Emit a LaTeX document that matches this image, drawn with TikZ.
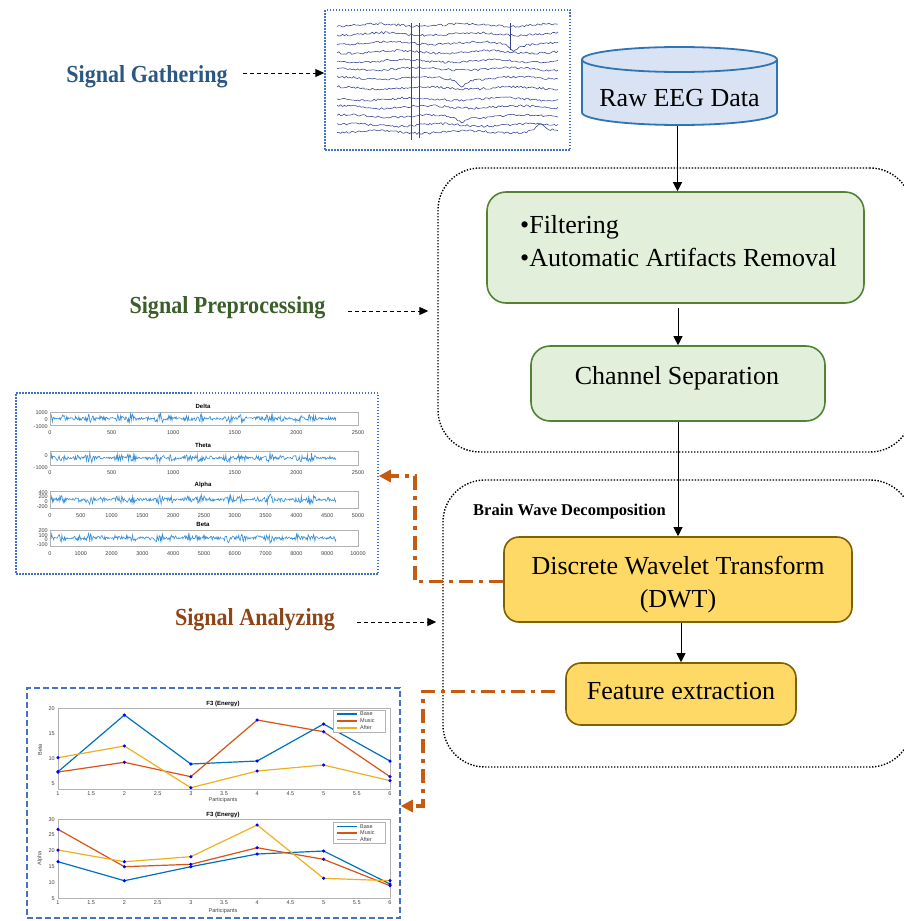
\documentclass[tikz,border=0pt]{standalone}
\usepackage{fontspec}
\setmainfont{Liberation Serif}
\setsansfont{Liberation Sans}
\newfontfamily\stagefont[FakeStretch=0.9]{Liberation Serif}
\usetikzlibrary{arrows.meta}

\definecolor{gathblue}{HTML}{2B5784}
\definecolor{prepdark}{HTML}{3B5E2B}
\definecolor{anabrown}{HTML}{8F4416}
\definecolor{prepedge}{HTML}{548235}
\definecolor{prepfill}{HTML}{E2EFDA}
\definecolor{dwtedge}{HTML}{806000}
\definecolor{dwtfill}{HTML}{FFD966}
\definecolor{cyledge}{HTML}{2E75B6}
\definecolor{cylfill}{HTML}{DAE3F3}
\definecolor{frameblue}{HTML}{4472C4}
\definecolor{analorange}{HTML}{C55A11}
\definecolor{eegnavy}{HTML}{34418F}
\definecolor{bandblue}{HTML}{3A8FD6}
\definecolor{basecol}{HTML}{0072BD}
\definecolor{musiccol}{HTML}{D95319}
\definecolor{aftercol}{HTML}{EDB120}

\tikzset{
  stage/.style={font=\stagefont\bfseries\fontsize{24.5}{28}\selectfont, anchor=base, inner sep=0pt},
  boxtext/.style={font=\fontsize{26}{32}\selectfont, anchor=base, inner sep=0pt},
  pointer/.style={draw, line width=1pt, dash pattern=on 4pt off 3pt, -{Triangle[length=9pt,width=8pt]}},
  flow/.style={draw, line width=0.8pt, -{Triangle[length=9pt,width=9pt]}},
  greenbox/.style={draw=prepedge, fill=prepfill, line width=1.6pt, rounded corners=19pt},
  goldbox/.style={draw=dwtedge, fill=dwtfill, line width=1.6pt, rounded corners=15pt},
  stagebox/.style={draw, line width=1.4pt, dash pattern=on 1.4pt off 1.6pt, rounded corners=42pt},
  imgframe/.style={draw=frameblue, line width=1.5pt, dash pattern=on 1.5pt off 1.5pt},
  chartframe/.style={draw=frameblue, line width=1.5pt, dash pattern=on 6pt off 3pt},
  analink/.style={draw=analorange, line width=3.5pt, dash pattern=on 14pt off 6pt on 4pt off 6pt, -{Triangle[length=12pt,width=12pt]}},
  eegtrace/.style={draw=eegnavy, line width=0.55pt},
  bandsig/.style={draw=bandblue, line width=0.6pt},
  axisline/.style={draw=gray!60, line width=0.6pt},
  plottitle/.style={font=\sffamily\bfseries\fontsize{6}{7}\selectfont, inner sep=0pt},
  ticklbl/.style={font=\sffamily\fontsize{5.5}{6}\selectfont, text=black!75, inner sep=0pt},
  serie/.style={line width=1.2pt, mark=*, mark size=0.9pt, mark options={fill=blue, draw=blue}}
}

\begin{document}
\begin{tikzpicture}[x=1pt,y=-1pt]
\useasboundingbox (0,0) rectangle (904,921);
\pgfmathsetseed{7}

% stages on the left
\node[stage, text=gathblue] (gathlbl) at (147,82) {Signal Gathering};
\node[stage, text=prepdark] (preplbl) at (227.5,313) {Signal Preprocessing};
\node[stage, text=anabrown] (analbl) at (255,625) {Signal Analyzing};

% stage containers
\node[stagebox, minimum width=474pt, minimum height=284pt] (prepstage) at (675,310) {};
\node[stagebox, minimum width=469pt, minimum height=287pt] (anastage) at (677.5,623.5) {};
\node[anchor=base west, inner sep=0pt, font=\bfseries\fontsize{16.5}{20}\selectfont] (bwd) at (473,515) {Brain Wave Decomposition};

% raw data store
\path[fill=cylfill, draw=cyledge, line width=1.8pt] (582,59.5) -- (582,112.5)
  arc[start angle=180, end angle=360, x radius=97.5pt, y radius=12.5pt] -- (777,59.5)
  arc[start angle=0, end angle=180, x radius=97.5pt, y radius=12.5pt] -- cycle;
\draw[cyledge, line width=1.8pt] (582,59.5) arc[start angle=180, end angle=360, x radius=97.5pt, y radius=12.5pt];
\node[boxtext] (raw) at (679.5,106) {Raw EEG Data};
\coordinate (rawbot) at (677.5,126);

% processing boxes
\node[greenbox, minimum width=377pt, minimum height=111pt] (prep) at (675.5,247.5) {};
\node[boxtext, anchor=base west] (filt) at (520,233) {\textbullet Filtering};
\node[boxtext, anchor=base west] (aar) at (520,266) {\textbullet Automatic Artifacts Removal};
\node[greenbox, minimum width=294pt, minimum height=75pt] (chan) at (678,383.5) {};
\node[boxtext] (chantxt) at (677,384) {Channel Separation};
\node[goldbox, minimum width=348pt, minimum height=85pt] (dwt) at (678,579.5) {};
\node[boxtext] (dwttxt) at (678,574) {Discrete Wavelet Transform};
\node[boxtext] (dwtabbr) at (678,607) {(DWT)};
\node[goldbox, minimum width=230pt, minimum height=62pt] (feat) at (681,694) {};
\node[boxtext] (feattxt) at (681,699) {Feature extraction};

\draw[flow] (rawbot) -- (rawbot |- prep.north);
\draw[flow, shorten <=4pt] (prep.south -| chan.north) -- (chan.north);
\draw[flow] (chan.south) -- (dwt.north);
\draw[flow] (dwt.south -| feat.north) -- (feat.north);

% picture frames
\node[imgframe, minimum width=245pt, minimum height=140pt] (eegimg) at (447.5,80) {};
\node[imgframe, minimum width=362pt, minimum height=181pt] (bands) at (197,483.5) {};
\node[chartframe, minimum width=373pt, minimum height=230pt] (charts) at (213.5,803) {};

\coordinate (gathtail) at (243,73);
\draw[pointer] (gathtail) -- (gathtail -| eegimg.west);
\coordinate (preptail) at (348,311);
\draw[pointer, shorten >=9pt] (preptail) -- (preptail -| prepstage.west);
\coordinate (anatail) at (357,622);
\draw[pointer, shorten >=6pt] (anatail) -- (anatail -| anastage.west);

\coordinate (kneeA) at (415,581.5);
\coordinate (kneeAtop) at (415,476);
\draw[analink] (dwt.west |- kneeA) -- (kneeA) -- (kneeAtop) -- (kneeAtop -| bands.east);
\coordinate (kneeB) at (423,691.5);
\coordinate (kneeBbot) at (423,806);
\draw[analink, shorten <=10pt] (feat.west |- kneeB) -- (kneeB) -- (kneeBbot) -- (kneeBbot -| charts.east);

% raw eeg traces
\foreach \ty/\bx/\ba in {25/500/0, 34/500/0, 43/514/7, 52/460/0, 61/500/0, 69/500/0,
    78/461/8, 88/500/0, 99/500/0, 107/500/0, 116/461/6, 125/500/0, 132/540/-7}
  \draw[eegtrace] plot[domain=337:558, samples=120]
    (\x,{\ty+1.1*rand+1.3*sin(\x*4+\ty*37)+\ba/(1+((\x-\bx)/5)^2)});
\draw[eegtrace, line width=0.4pt] (411,23) -- (411,140);
\draw[eegtrace, line width=0.4pt] (419,23) -- (419,138);
\draw[eegtrace, line width=0.4pt] (510,23) -- (510,50);

% wavelet bands
\foreach \ttl/\ya/\yb/\n/\stp in {Delta/412/425/5/500, Theta/451/465/5/500, Alpha/491/508/10/500, Beta/530/546/10/1000} {
  \draw[axisline] (50,\ya) rectangle (358,\yb);
  \node[plottitle] (t\ttl) at (203,\ya-6) {\ttl};
  \draw[bandsig] plot[domain=51:336, samples=420]
    (\x,{(\ya+\yb)/2+(0.8+4.5*abs(sin(\x*13))*abs(sin(\x*5)))*rand});
  \foreach \i in {0,...,\n} {
    \pgfmathtruncatemacro\lab{\i*\stp}
    \node[ticklbl] (x\ttl\i) at ({50+\i*308/\n},\yb+8) {\lab};
  }
}
\foreach \v/\yy [count=\j] in {1000/413, 0/420, -1000/426.5, 0/456, -1000/468,
    400/492.5, 200/497, 0/501.5, -200/506.5, 200/531, 100/535.5, 0/540, -100/544.5}
  \node[ticklbl, anchor=east] (yl\j) at (48,\yy) {\v};

% energy charts
\draw[axisline] (58,708) rectangle (390,789);
\node[plottitle] (ttop) at (223,704) {F3 (Energy)};
\foreach \v/\yy in {20/708.3, 15/733.7, 10/759, 5/784}
  \node[ticklbl, anchor=east] (yt\v) at (55,\yy) {\v};
\foreach \p [count=\j] in {1,1.5,2,2.5,3,3.5,4,4.5,5,5.5,6}
  \node[ticklbl] (xt\j) at ({58+(\p-1)*66.4},794) {\p};
\node[ticklbl] (xlt) at (223,800.5) {Participants};
\node[ticklbl, rotate=90] (ylt) at (40,750) {Beta};
\draw[serie, basecol] plot coordinates {(58,771.7) (124.4,715) (190.8,764) (257.2,761) (323.6,724) (390,761)};
\draw[serie, musiccol] plot coordinates {(58,772) (124.4,762.3) (190.8,776.7) (257.2,720) (323.6,731.7) (390,776.7)};
\draw[serie, aftercol] plot coordinates {(58,757.7) (124.4,746) (190.8,787.7) (257.2,771) (323.6,765) (390,780.7)};
\draw[axisline, fill=white] (333,710) rectangle (385,732);
\foreach \nm/\col/\yy in {Base/basecol/714, Music/musiccol/721, After/aftercol/728} {
  \draw[\col, line width=1.2pt] (337,\yy) -- (357,\yy);
  \node[ticklbl, anchor=west] (lgt\nm) at (360,\yy) {\nm};
}

\draw[axisline] (58,819.3) rectangle (390,898.3);
\node[plottitle] (tbot) at (223,815) {F3 (Energy)};
\foreach \v/\yy in {30/819.3, 25/835, 20/851, 15/867, 10/882.7, 5/898.3}
  \node[ticklbl, anchor=east] (yb\v) at (55,\yy) {\v};
\foreach \p [count=\j] in {1,1.5,2,2.5,3,3.5,4,4.5,5,5.5,6}
  \node[ticklbl] (xb\j) at ({58+(\p-1)*66.4},902.5) {\p};
\node[ticklbl] (xlb) at (223,911) {Participants};
\node[ticklbl, rotate=90] (ylb) at (40,858) {Alpha};
\draw[serie, basecol] plot coordinates {(58,861.7) (124.4,880.7) (190.8,866.7) (257.2,854) (323.6,851) (390,884)};
\draw[serie, musiccol] plot coordinates {(58,829.3) (124.4,866.7) (190.8,864.3) (257.2,847.7) (323.6,859.3) (390,885.7)};
\draw[serie, aftercol] plot coordinates {(58,850) (124.4,861.7) (190.8,856.7) (257.2,825) (323.6,878.3) (390,880.7)};
\draw[axisline, fill=white] (333,822) rectangle (385,843);
\foreach \nm/\col/\yy in {Base/basecol/826.5, Music/musiccol/833, After/aftercol/839.5} {
  \draw[\col, line width=1.2pt] (337,\yy) -- (357,\yy);
  \node[ticklbl, anchor=west] (lgb\nm) at (360,\yy) {\nm};
}
\end{tikzpicture}
\end{document}
